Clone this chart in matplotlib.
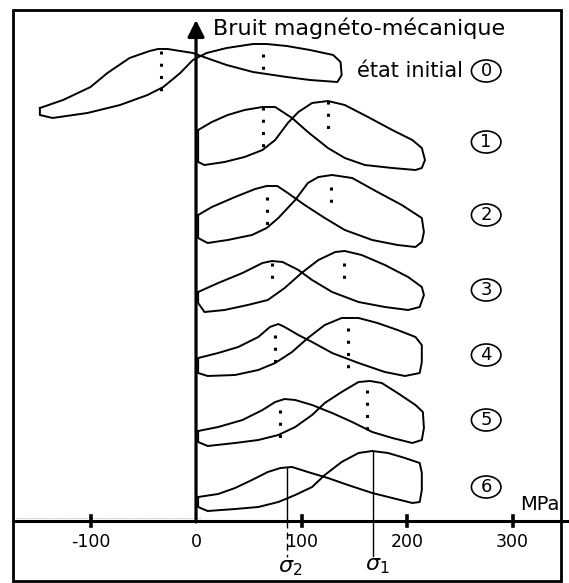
import numpy as np
import matplotlib.pyplot as plt
from matplotlib.patches import Ellipse, Rectangle

plt.rcParams['font.family'] = ['DejaVu Sans']

# Magneto-mechanical noise loops vs stress (MPa), noise in arbitrary units
# curve A = branch with the left peak, curve B = branch with the right peak
loop_labels = ['0', '1', '2', '3', '4', '5', '6']

curve_a_mpa = [
    [-148, -126, -100, -84, -63, -44, -36, -27, -3, 10, 29, 54, 86, 108, 134],
    [2, 15, 30, 46, 63, 75, 91, 106, 125, 141, 160, 186, 208, 214],
    [2, 15, 37, 56, 67, 77, 87, 103, 122, 141, 167, 191, 208, 214],
    [2, 21, 44, 63, 72, 82, 97, 110, 129, 154, 179, 201, 212],
    [2, 21, 40, 59, 70, 78, 84, 97, 110, 129, 154, 179, 198, 212],
    [2, 21, 44, 63, 75, 84, 94, 110, 129, 148, 167, 186, 205, 214],
    [2, 21, 37, 53, 68, 80, 91, 106, 125, 144, 167, 186, 205, 212],
]
curve_a_noise = [
    [413, 421, 434, 448, 463, 470, 472, 472, 468, 463, 456, 449, 444, 441, 439],
    [391, 399, 406, 411, 414, 414, 403, 389, 373, 363, 356, 353, 351, 353],
    [306, 314, 324, 332, 335, 335, 328, 316, 303, 291, 281, 276, 274, 279],
    [229, 238, 248, 258, 260, 259, 251, 241, 229, 219, 214, 211, 214],
    [163, 168, 174, 184, 194, 197, 194, 186, 179, 168, 158, 149, 145, 148],
    [90, 94, 101, 111, 119, 122, 121, 116, 108, 99, 89, 83, 78, 81],
    [24, 27, 33, 41, 49, 53, 54, 49, 43, 36, 28, 23, 18, 19],
]
curve_b_mpa = [
    [-148, -136, -103, -72, -46, -31, -15, -3, 10, 29, 54, 67, 86, 108, 130, 137, 138, 134],
    [2, 8, 27, 46, 63, 75, 87, 97, 110, 125, 141, 163, 186, 205, 214, 217, 214],
    [2, 11, 30, 53, 67, 78, 94, 106, 116, 129, 148, 172, 195, 214, 216, 214],
    [2, 8, 27, 49, 68, 84, 100, 116, 132, 141, 157, 179, 201, 214, 216, 212],
    [2, 11, 37, 59, 75, 91, 106, 122, 138, 154, 172, 191, 208, 214, 214, 212],
    [2, 11, 37, 59, 78, 94, 110, 122, 138, 154, 165, 176, 191, 208, 215, 216, 214],
    [2, 11, 37, 59, 78, 94, 110, 122, 138, 154, 167, 182, 198, 212, 214, 214, 212],
]
curve_b_noise = [
    [406, 403, 408, 416, 426, 434, 448, 461, 468, 473, 477, 477, 475, 471, 466, 459, 446, 439],
    [359, 356, 359, 364, 371, 381, 398, 409, 418, 420, 416, 404, 391, 381, 373, 361, 353],
    [283, 278, 281, 286, 293, 303, 321, 338, 344, 346, 343, 329, 316, 303, 289, 279],
    [218, 209, 211, 216, 221, 233, 248, 261, 269, 270, 266, 256, 244, 234, 226, 214],
    [148, 145, 146, 151, 158, 169, 183, 196, 203, 203, 198, 191, 184, 176, 159, 148],
    [79, 75, 78, 81, 86, 94, 106, 118, 129, 139, 140, 138, 128, 116, 109, 93, 81],
    [14, 10, 12, 14, 19, 26, 34, 46, 59, 68, 70, 68, 63, 58, 48, 31, 19],
]

# dotted drop lines at the two peaks of loops 0-5: (position, top, bottom)
peak_left_mpa = [-33, 63, 67, 72, 75, 80]
peak_left_top = [470, 414, 324, 258, 186, 111]
peak_left_bottom = [428, 369, 291, 236, 153, 76]
peak_right_mpa = [63, 125, 128, 140, 144, 162]
peak_right_top = [467, 420, 334, 258, 193, 131]
peak_right_bottom = [444, 386, 313, 234, 149, 84]

# final state: characteristic stresses
sigma_2 = 86
sigma_1 = 168
sigma_2_top = 54
sigma_1_top = 70

label_noise = [450, 379, 306, 231, 166, 101, 34]
x_ticks = [-100, 0, 100, 200, 300]

fig = plt.figure(figsize=(5.69, 5.83), dpi=100)
ax = fig.add_axes([0, 0, 1, 1])
ax.set_xlim(-185.8, 353.5)
ax.set_ylim(-62, 521)
ax.axis('off')

# frame
fig.add_artist(Rectangle((13 / 569, 2 / 583), 548 / 569, 571 / 583,
                         transform=fig.transFigure, fill=False, lw=2, ec='black'))

# loops
for i in range(len(loop_labels)):
    xa, ya = curve_a_mpa[i], curve_a_noise[i]
    xb, yb = curve_b_mpa[i], curve_b_noise[i]
    xs = list(xa) + list(xb[::-1]) + [xa[0]]
    ys = list(ya) + list(yb[::-1]) + [ya[0]]
    ax.plot(xs, ys, color='black', lw=1.4, solid_joinstyle='round')

# dotted peak lines
dot_style = dict(color='black', lw=2.2, linestyle=(0, (1, 3)), dash_capstyle='butt')
for i in range(len(peak_left_mpa)):
    ax.plot([peak_left_mpa[i]] * 2, [peak_left_top[i], peak_left_bottom[i]], **dot_style)
    ax.plot([peak_right_mpa[i]] * 2, [peak_right_top[i], peak_right_bottom[i]], **dot_style)

# sigma lines on the last loop
ax.plot([sigma_2, sigma_2], [sigma_2_top, 0], color='black', lw=1)
ax.plot([sigma_2, sigma_2], [0, -36], color='black', lw=1, linestyle=(0, (5, 3)))
ax.plot([sigma_1, sigma_1], [sigma_1_top, -35], color='black', lw=1)
ax.text(sigma_2 + 3, -47, r'$\sigma_2$', fontsize=16, ha='center', va='center')
ax.text(sigma_1 + 4, -45, r'$\sigma_1$', fontsize=16, ha='center', va='center')

# faint scan line on the left part of the axis
ax.plot([-172, 5], [3, 3], color='#c8c8c8', lw=0.6, linestyle=(0, (3, 1)))

# axes
ax.plot([-172, 353.5], [0, 0], color='black', lw=2.2)
for t in x_ticks:
    if t != 0:
        ax.plot([t, t], [-5, 5], color='black', lw=2.6)
    ax.text(t, -21, str(t), fontsize=12.5, ha='center', va='center')
ax.annotate('', xy=(0, 501), xytext=(0, -1),
            arrowprops=dict(arrowstyle='-|>,head_width=0.5,head_length=1.0',
                            lw=2.3, color='black', shrinkA=0, shrinkB=0))
ax.text(326, 16, 'MPa', fontsize=14, ha='center', va='center')
ax.text(16, 493, 'Bruit magnéto-mécanique', fontsize=16, ha='left', va='center')
ax.text(253, 450, 'état initial', fontsize=15, ha='right', va='center')

for lab, yv in zip(loop_labels, label_noise):
    ax.add_patch(Ellipse((275, yv), 28, 22, fill=False, lw=1.2, ec='black'))
    ax.text(275, yv, lab, fontsize=13, ha='center', va='center')

fig.savefig('out.png', dpi=100)
